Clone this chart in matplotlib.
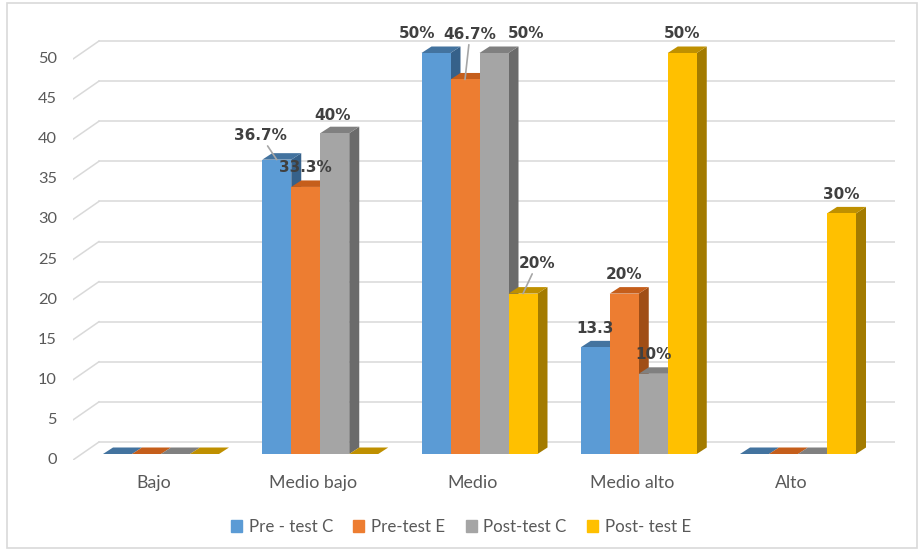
import matplotlib
matplotlib.use("Agg")
import matplotlib.pyplot as plt
from matplotlib.patches import Polygon, Patch, Rectangle
import numpy as np

categories = ["Bajo", "Medio bajo", "Medio", "Medio alto", "Alto"]
series = ["Pre - test C", "Pre-test E", "Post-test C", "Post- test E"]
pre_c = [0, 36.7, 50, 13.3, 0]
pre_e = [0, 33.3, 46.7, 20, 0]
post_c = [0, 40, 50, 10, 0]
post_e = [0, 0, 20, 50, 30]
labels_pre_c = ["", "36.7%", "50%", "13.3", ""]
labels_pre_e = ["", "33.3%", "46.7%", "20%", ""]
labels_post_c = ["", "40%", "50%", "10%", ""]
labels_post_e = ["", "", "20%", "50%", "30%"]
yticks = [0, 5, 10, 15, 20, 25, 30, 35, 40, 45, 50]

values = [pre_c, pre_e, post_c, post_e]
texts = [labels_pre_c, labels_pre_e, labels_post_c, labels_post_e]

# front / top / side shades, excel-ish
FRONT = ["#5B9BD5", "#ED7D31", "#A5A5A5", "#FFC000"]
TOP = ["#43739F", "#C55E1B", "#808080", "#BF9000"]
SIDE = ["#36618A", "#A04E16", "#6B6B6B", "#A37B00"]

# pixel scale of the layout (1 category = 159.25 px, 1 unit = 8.02 px)
PXX = 1 / 159.25
PXY = 1 / 8.02
BW = 29 * PXX
DX, DY = 10 * PXX, 6.5 * PXY        # bar depth
WX, WY = 26 * PXX, 18 * PXY         # front -> back wall

# label offsets in pixels (dx, dy up), default (0, 19)
label_off = {(0, 1): (-16, 24), (2, 1): (-2, 18), (0, 2): (-19, 19),
             (1, 2): (5, 45), (2, 2): (32, 19), (3, 2): (14, 30)}
leaders = {(0, 1), (1, 2), (3, 2)}

fig = plt.figure(figsize=(9.21, 5.51), dpi=100)
ax = fig.add_axes([73 / 921, 91 / 551, 822 / 921, 430 / 551])
x0, x1 = -88 * PXX, 734 * PXX
y0, y1 = -6 * PXY, 424 * PXY
ax.set_xlim(x0, x1)
ax.set_ylim(y0, y1)
ax.axis("off")

GRID = "#D9D9D9"
for v in yticks:
    ax.plot([x0, x0 + WX], [v + y0, v + y0 + WY], color=GRID, lw=1.1, zorder=1)
    ax.plot([x0 + WX, x1], [v + y0 + WY, v + y0 + WY], color=GRID, lw=1.1, zorder=1)
    ax.annotate(str(v), (x0, v + y0), xytext=(-16, 0), textcoords="offset pixels",
                ha="right", va="center", fontsize=11.8, color="#595959", family="Lato")

z = 2
for i in range(len(categories)):
    for j, vals in enumerate(values):
        v = vals[i]
        left = i + (j - 2) * BW
        right = left + BW
        side = Polygon([(right, 0), (right, v), (right + DX, v + DY), (right + DX, DY)],
                       closed=True, fc=SIDE[j], ec="none", zorder=z)
        top = Polygon([(left, v), (right, v), (right + DX, v + DY), (left + DX, v + DY)],
                      closed=True, fc=TOP[j], ec="none", zorder=z)
        ax.add_patch(side)
        ax.add_patch(top)
        ax.bar(left, v, width=BW, align="edge", color=FRONT[j], zorder=z + 0.5)
        z += 1

for j, vals in enumerate(values):
    for i, v in enumerate(vals):
        txt = texts[j][i]
        if not txt:
            continue
        cx = i + (j - 1.5) * BW
        dx, dy = label_off.get((j, i), (0, 19))
        arrow = None
        if (j, i) in leaders:
            arrow = dict(arrowstyle="-", color="#A6A6A6", lw=1.2, shrinkA=0, shrinkB=0)
        ax.annotate(txt, (cx, v), xytext=(dx, dy), textcoords="offset pixels",
                    ha="center", va="center", fontsize=11, fontweight="bold",
                    color="#404040", family="DejaVu Sans", arrowprops=arrow, zorder=100)

for i, c in enumerate(categories):
    ax.annotate(c, (i - 7 * PXX, y0), xytext=(0, -23), textcoords="offset pixels",
                ha="center", va="center", fontsize=12.8, color="#595959", family="Lato")

handles = [Patch(color=c) for c in FRONT]
fig.legend(handles, series, loc="center", bbox_to_anchor=(461 / 921, 1 - 527 / 551),
           ncol=4, frameon=False, handlelength=0.65, handleheight=0.65,
           handletextpad=0.4, columnspacing=1.2, labelcolor="#595959",
           prop={"family": "Lato", "size": 12.2})

fig.patches.append(Rectangle((7 / 921, 3 / 551), 910 / 921, 545 / 551, fill=False,
                             ec=GRID, lw=1.2, transform=fig.transFigure))

fig.savefig("out.png", dpi=100)
